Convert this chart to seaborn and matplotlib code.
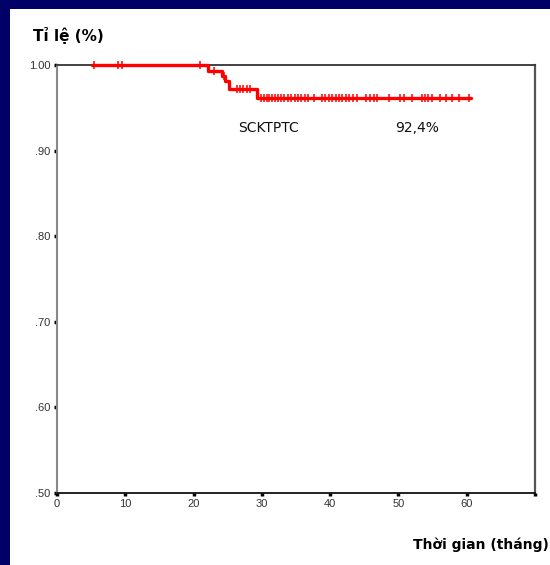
import matplotlib
matplotlib.use("Agg")
import matplotlib.pyplot as plt
import seaborn as sns
import pandas as pd
import numpy as np
from matplotlib.patches import Rectangle

# ---- data ----
step_times = [5.1, 22.1, 24.1, 24.6, 25.2, 29.3, 60.6]
step_surv = [1.000, 0.993, 0.987, 0.981, 0.972, 0.961, 0.961]
censor_times = [5.4, 8.9, 9.5, 20.9, 23.0, 24.4, 26.3, 26.8, 27.3, 27.8, 28.3,
                29.9, 30.3, 30.7, 31.1, 31.5, 31.9, 32.3, 32.8, 33.3, 33.8,
                34.3, 34.8, 35.3, 35.8, 36.3, 36.8, 37.7, 38.8, 39.3, 39.8,
                40.3, 40.8, 41.3, 41.8, 42.3, 42.8, 43.3, 43.9, 45.2, 45.9,
                46.4, 46.9, 48.6, 50.3, 50.8, 52.0, 53.5, 53.9, 54.4, 54.9,
                56.1, 56.9, 57.9, 58.8, 60.3]
y_ticks = [0.5, 0.6, 0.7, 0.8, 0.9, 1.0]
y_tick_labels = [".50", ".60", ".70", ".80", ".90", "1.00"]
x_ticks = [0, 10, 20, 30, 40, 50, 60, 70]
x_tick_labels = ["0", "10", "20", "30", "40", "50", "60", ""]
group_label = "SCKTPTC"
group_value = "92,4%"

curve = pd.DataFrame({"t": step_times, "s": step_surv})
# survival level at each censor time, looked up on the step curve
idx = np.searchsorted(step_times, censor_times, side="right") - 1
cens = pd.DataFrame({"t": censor_times, "s": [step_surv[i] for i in idx]})

sns.set_style("white")
plt.rcParams['font.family'] = ['DejaVu Sans']

fig = plt.figure(figsize=(5.5, 5.65), dpi=100)
fig.patch.set_facecolor("#000066")
fig.patches.append(Rectangle((10 / 550, 0), 1 - 10 / 550, 1 - 9 / 565,
                             transform=fig.transFigure, facecolor="white",
                             edgecolor="none", zorder=-10))

ax = fig.add_axes([57 / 550, 1 - 493 / 565, (535 - 57) / 550, (493 - 65) / 565])
ax.set_zorder(5)
ax.set_facecolor("white")

sns.lineplot(data=curve, x="t", y="s", ax=ax, color="#ff0000", linewidth=2.4,
             drawstyle="steps-post", clip_on=False, zorder=5)
sns.scatterplot(data=cens, x="t", y="s", ax=ax, marker="|", s=28,
                color="#ff0000", linewidth=1.1, clip_on=False, zorder=6)

ax.set_xlim(0, 70)
ax.set_ylim(0.5, 1.0)
ax.set_xticks(x_ticks)
ax.set_xticklabels(x_tick_labels)
ax.set_yticks(y_ticks)
ax.set_yticklabels(y_tick_labels)
ax.set_xlabel("")
ax.set_ylabel("")
ax.tick_params(axis="both", direction="out", length=2.5, width=2.5,
               color="black", labelsize=8, labelcolor="#333333", pad=2,
               bottom=True, left=True)
for lab in ax.get_xticklabels() + ax.get_yticklabels():
    lab.set_family("Liberation Sans")

ax.spines["left"].set_color("#888888")
ax.spines["left"].set_linewidth(1.5)
ax.spines["bottom"].set_color("#111111")
ax.spines["bottom"].set_linewidth(1.3)
ax.spines["top"].set_color("#333333")
ax.spines["top"].set_linewidth(1.3)
ax.spines["right"].set_color("#555555")
ax.spines["right"].set_linewidth(1.6)
for s in ax.spines.values():
    s.set_visible(True)

ax.text(26.5, 0.926, group_label, fontsize=10, color="#111111", va="center", ha="left")
ax.text(49.5, 0.926, group_value, fontsize=10, color="#111111", va="center", ha="left")

fig.text(33 / 550, 1 - 36 / 565, "Tỉ lệ (%)", fontsize=11, fontweight="heavy",
         color="black", ha="left", va="center")
fig.text(549 / 550, 1 - 545 / 565, "Thời gian (tháng)", fontsize=10,
         fontweight="heavy", color="black", ha="right", va="center")

fig.savefig("out.png", dpi=100, facecolor=fig.get_facecolor())
